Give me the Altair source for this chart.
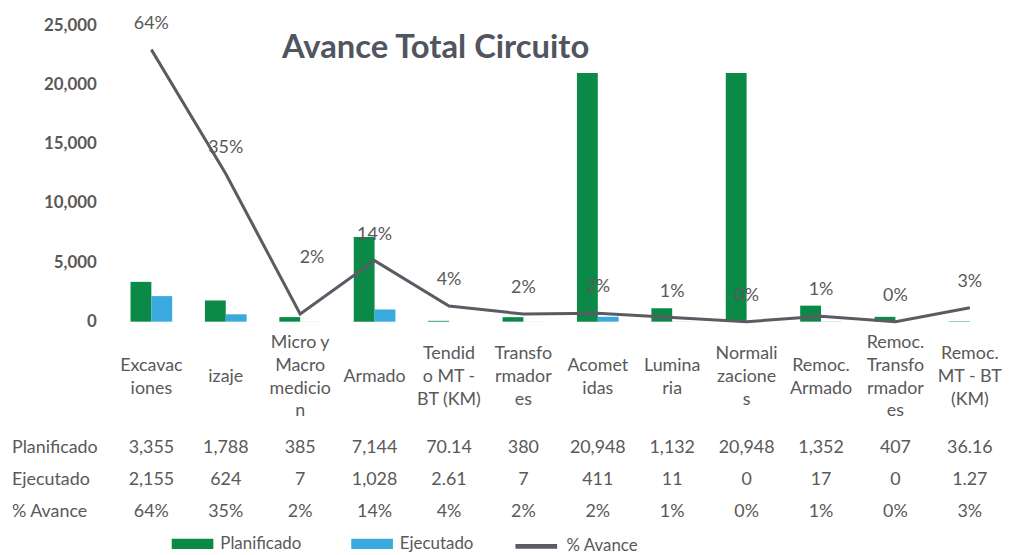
import altair as alt
import pandas as pd

categorias = [
    "Excavac\niones", "izaje", "Micro y\nMacro\nmedicio\nn", "Armado",
    "Tendid\no MT -\nBT (KM)", "Transfo\nrmador\nes", "Acomet\nidas", "Lumina\nria",
    "Normali\nzacione\ns", "Remoc.\nArmado", "Remoc.\nTransfo\nrmador\nes", "Remoc.\nMT - BT\n(KM)",
]
planificado = [3355, 1788, 385, 7144, 70.14, 380, 20948, 1132, 20948, 1352, 407, 36.16]
ejecutado = [2155, 624, 7, 1028, 2.61, 7, 411, 11, 0, 17, 0, 1.27]
avance = [0.642, 0.349, 0.018, 0.144, 0.037, 0.018, 0.020, 0.010, 0.0, 0.013, 0.0, 0.033]
filas = ["Planificado", "Ejecutado", "% Avance"]
y_ticks = [0, 5000, 10000, 15000, 20000, 25000]

GREEN = "#0b8a47"
BLUE = "#3aaade"
GRAY = "#5b5b63"
TXT = "#595959"
FONT = "Lato"
FS = 18

df = pd.DataFrame({"cat": categorias, "Planificado": planificado,
                   "Ejecutado": ejecutado, "avance": avance})

tabla = pd.DataFrame(
    [{"cat": c, "fila": f, "ri": i, "v": v}
     for i, (f, serie) in enumerate(zip(filas, [planificado, ejecutado, avance]))
     for c, v in zip(categorias, serie)]
)
filas_df = pd.DataFrame({"fila": filas, "ri": list(range(len(filas)))})

x = alt.X("cat:N", sort=categorias, axis=None,
          scale=alt.Scale(paddingInner=0.44, paddingOuter=0.22))

bars = alt.Chart(df).transform_fold(
    ["Planificado", "Ejecutado"], as_=["serie", "valor"]
).mark_bar().encode(
    x=x,
    xOffset=alt.XOffset("serie:N", sort=["Planificado", "Ejecutado"],
                        scale=alt.Scale(paddingInner=0, paddingOuter=0)),
    y=alt.Y("valor:Q", title=None,
            scale=alt.Scale(domain=[0, 25000], nice=False),
            axis=alt.Axis(values=y_ticks, format=",.0f", domain=False, ticks=False,
                          grid=False, labelFontSize=17, labelColor=TXT,
                          labelFont=FONT, labelPadding=18, labelFontWeight="bold")),
    fill=alt.Fill(
        "serie:N",
        scale=alt.Scale(domain=["Planificado", "Ejecutado"], range=[GREEN, BLUE]),
        legend=alt.Legend(
            title=None, orient="none", legendX=58, legendY=502,
            direction="horizontal",
            symbolType="M-1,-0.25H1V0.25H-1Z", symbolSize=1764,
            symbolStrokeWidth=0, labelFontSize=17, labelColor=TXT,
            labelFont=FONT, labelOffset=7, columnPadding=50,
        ),
    ),
)

y2 = alt.Y("avance:Q", scale=alt.Scale(domain=[0, 0.7], nice=False), axis=None)
linea = alt.Chart(df).transform_calculate(
    serie="'% Avance'"
).mark_line(strokeWidth=3).encode(
    x=x, y=y2,
    stroke=alt.Stroke(
        "serie:N",
        scale=alt.Scale(domain=["% Avance"], range=[GRAY]),
        legend=alt.Legend(
            title=None, orient="none", legendX=402, legendY=502,
            symbolType="M-1,0H1", symbolSize=1764, symbolStrokeWidth=5,
            labelFontSize=17, labelColor=TXT, labelFont=FONT, labelOffset=7,
        ),
    ),
)
micro = categorias[2]
etiquetas = alt.Chart(df).transform_filter(
    alt.datum.cat != micro
).mark_text(dy=-26, fontSize=FS, color=TXT, font=FONT).encode(
    x=x, y=y2, text=alt.Text("avance:Q", format=".0%"))
etiqueta_micro = alt.Chart(df).transform_filter(
    alt.datum.cat == micro
).mark_text(dy=-56, dx=12, fontSize=FS, color=TXT, font=FONT).encode(
    x=x, y=y2, text=alt.Text("avance:Q", format=".0%"))

cat_labels = alt.Chart(df).transform_calculate(
    top="-(length(split(datum.cat, '\\n')) - 1) / 2"
).mark_text(
    lineBreak="\n", baseline="middle", align="center", fontSize=FS,
    lineHeight=23, color=TXT, font=FONT
).encode(
    x=x,
    y=alt.Y("top:Q", axis=None,
            scale=alt.Scale(domain=[-1.5, 0], range=[320.5, 355])),
    text="cat:N",
)

yfila = alt.Y("ri:Q", axis=None, scale=alt.Scale(domain=[0, 2], range=[426, 491]))

tabla_txt = alt.Chart(tabla).transform_calculate(
    lbl="datum.fila == '% Avance' ? format(datum.v, '.0%') : format(datum.v, ',')"
).mark_text(fontSize=FS, color=TXT, font=FONT, baseline="middle").encode(
    x=x, y=yfila, text="lbl:N"
)

fila_txt = alt.Chart(filas_df).mark_text(
    fontSize=FS, color=TXT, font=FONT, align="left", baseline="middle"
).encode(x=alt.value(-103), y=yfila, text="fila:N")

chart = alt.layer(
    bars, linea, etiquetas, etiqueta_micro, cat_labels, tabla_txt, fila_txt
).resolve_scale(y="independent").properties(
    width=900, height=299, autosize="none",
    padding={"left": 107, "top": 15, "right": 4, "bottom": 233},
    title=alt.Title("Avance Total Circuito", anchor="middle", dx=-126, dy=54,
                    fontSize=33, font=FONT, fontWeight="bold", color="#505560"),
).configure_view(stroke=None)

chart.save("out.html", embed_options={"renderer": "svg", "actions": False})
